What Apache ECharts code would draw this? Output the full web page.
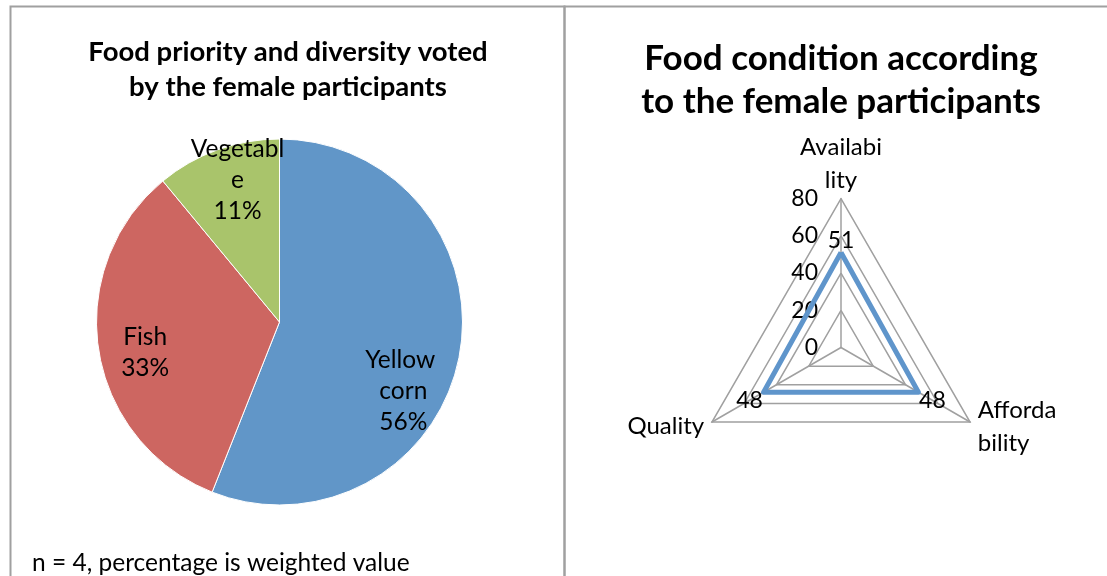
<!DOCTYPE html>
<html>
<head>
<meta charset="utf-8">
<script src="https://cdn.jsdelivr.net/npm/echarts@6/dist/echarts.min.js"></script>
<style>
  html, body { margin: 0; padding: 0; background: #fff; }
  #chart { width: 1107px; height: 576px; }
</style>
</head>
<body>
<div id="chart"></div>
<script>
// Food priority (pie), weighted share in percent
const foodItems = ['Yellow corn', 'Fish', 'Vegetable'];
const foodShares = [56, 33, 11];

// Food condition (radar), listed counter-clockwise from the top
const conditionAxes = ['Availability', 'Quality', 'Affordability'];
const conditionScores = [51, 48, 48];
const scoreMin = 0;
const scoreMax = 80;
const scoreStep = 20;

const FONT = 'Lato, "Noto Sans", sans-serif';
const pieColors = ['#6196C8', '#CD6661', '#A9C46B'];
const lineBlue = '#5F95CB';
const gridGray = '#A0A0A0';

const labelSize = 24.5;
const nameSize = 24;
const nameBoxWidth = 85;

// where each pie label sits relative to the slice's default inside spot
const pieLabelShift = [[31, 51], [-41, 16], [-10, -53]];
// wrap rules for the pie labels
const pieLabelWrap = [
  { width: 84, overflow: 'break' },
  {},
  { width: 100, overflow: 'breakAll' }
];

// Greedy character wrap of an axis name into lines no wider than maxWidth
const measureCtx = document.createElement('canvas').getContext('2d');
function wrapName(text, fontSize, maxWidth) {
  measureCtx.font = fontSize + 'px ' + FONT;
  const lines = [];
  let line = '';
  for (const ch of text) {
    if (line && measureCtx.measureText(line + ch).width > maxWidth) {
      lines.push(line);
      line = ch;
    } else {
      line += ch;
    }
  }
  if (line) lines.push(line);
  return lines.join('\n');
}

const chart = echarts.init(document.getElementById('chart'), null, { renderer: 'canvas' });

chart.setOption({
  animation: false,
  title: [
    {
      text: 'Food priority and diversity voted\nby the female participants',
      left: 288, top: 35, padding: 0, textAlign: 'center',
      textStyle: { fontFamily: FONT, fontWeight: 'bold', fontSize: 27.5, lineHeight: 35, color: '#000' }
    },
    {
      text: 'Food condition according\nto the female participants',
      left: 841, top: 37, padding: 0, textAlign: 'center',
      textStyle: { fontFamily: FONT, fontWeight: 'bold', fontSize: 35, lineHeight: 43, color: '#000' }
    },
    {
      text: 'n = 4, percentage is weighted value',
      left: 32, top: 550, padding: 0,
      textStyle: { fontFamily: FONT, fontWeight: 'normal', fontSize: 24.5, lineHeight: 26, color: '#000' }
    }
  ],
  graphic: [
    { type: 'rect', silent: true, shape: { x: 10.5, y: 6.5, width: 554, height: 620 },
      style: { fill: 'none', stroke: gridGray, lineWidth: 2 } },
    { type: 'rect', silent: true, shape: { x: 564.5, y: 6.5, width: 620, height: 620 },
      style: { fill: 'none', stroke: gridGray, lineWidth: 2 } }
  ],
  radar: {
    center: [841, 347.5],
    radius: 149,
    startAngle: 90,
    shape: 'polygon',
    splitNumber: (scoreMax - scoreMin) / scoreStep,
    // the top name sits right on its apex, above the tick labels
    indicator: conditionAxes.map((name, i) => ({
      name: name, min: scoreMin, max: scoreMax,
      nameGap: i === 0 ? 2 : 9,
      nameMoveOverlap: false,
      axisLabel: { show: i === 0 }
    })),
    nameGap: 9,
    nameMoveOverlap: false,
    axisName: {
      color: '#000', fontFamily: FONT, fontSize: nameSize, lineHeight: 33,
      formatter: function (name) { return wrapName(name, nameSize, nameBoxWidth); }
    },
    axisLine: { lineStyle: { color: gridGray, width: 1.5 } },
    splitLine: { lineStyle: { color: gridGray, width: 1.5 } },
    splitArea: { show: false },
    axisTick: { show: false },
    axisLabel: {
      show: true, color: '#000', fontFamily: FONT, fontSize: 23, margin: 23,
      showMinLabel: true, showMaxLabel: true
    }
  },
  series: [
    {
      type: 'pie',
      center: [279.5, 322],
      radius: 183,
      startAngle: 90,
      clockwise: true,
      percentPrecision: 0,
      silent: true,
      data: foodItems.map((name, i) => ({
        name: name,
        value: foodShares[i],
        itemStyle: { color: pieColors[i] },
        label: pieLabelWrap[i]
      })),
      itemStyle: { borderColor: '#ffffff', borderWidth: 1 },
      label: {
        show: true, position: 'inside', formatter: '{b}\n{d}%',
        color: '#000', fontFamily: FONT, fontSize: labelSize, lineHeight: 31, align: 'center'
      },
      labelLine: { show: false },
      labelLayout: function (params) {
        const s = pieLabelShift[params.dataIndex];
        return { dx: s[0], dy: s[1] };
      }
    },
    {
      type: 'radar',
      silent: true,
      symbol: 'circle',
      symbolSize: 1,
      itemStyle: { color: lineBlue },
      lineStyle: { color: lineBlue, width: 5 },
      data: [{ name: 'Female participants', value: conditionScores }],
      label: {
        show: true,
        position: 'inside',
        color: '#000',
        fontFamily: FONT,
        fontSize: 23,
        formatter: function (p) {
          const d = p.dimensionIndex == null ? 0 : p.dimensionIndex;
          return '{d' + d + '|' + p.value + '}';
        },
        rich: {
          d0: { fontFamily: FONT, fontSize: 23, color: '#000', padding: [0, 0, 24, 0] },
          d1: { fontFamily: FONT, fontSize: 23, color: '#000', padding: [16, 28, 0, 0] },
          d2: { fontFamily: FONT, fontSize: 23, color: '#000', padding: [16, 0, 0, 28] }
        }
      }
    }
  ]
});
</script>
</body>
</html>
